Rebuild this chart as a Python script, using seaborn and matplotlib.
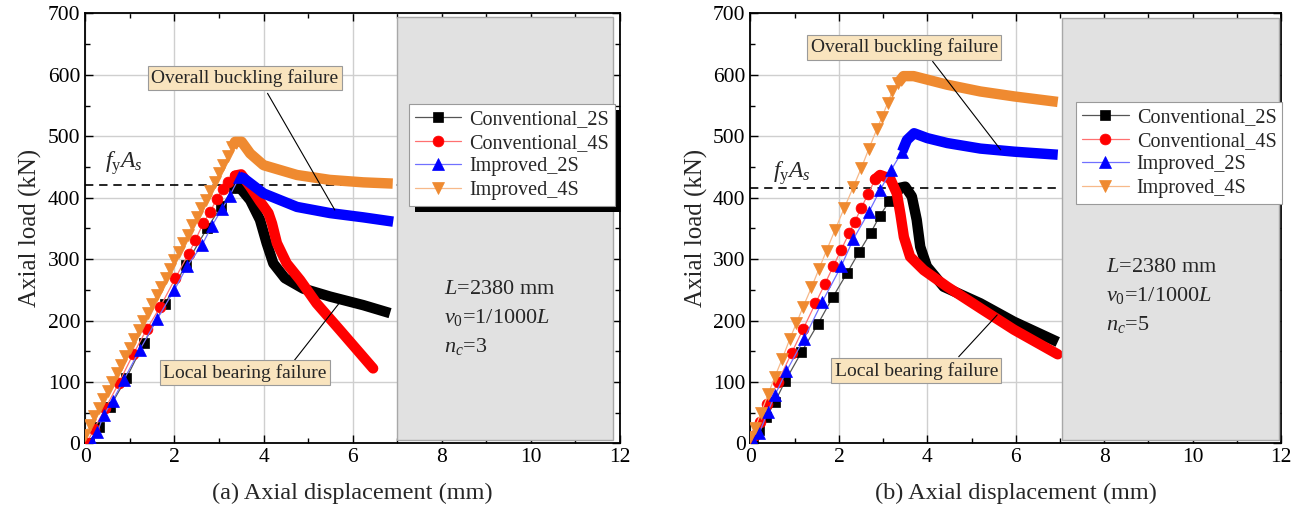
import numpy as np
import matplotlib
matplotlib.use("Agg")
import matplotlib.pyplot as plt
from matplotlib.patches import Rectangle
import seaborn as sns

# ---------------- data ----------------
# Panel (a), n_c = 3
a_c2_pre_x = [0.08, 0.30, 0.55, 0.92, 1.31, 1.79, 2.25, 2.73, 3.05, 3.33]
a_c2_pre_y = [0, 27, 59, 106, 163, 227, 290, 350, 386, 415]
a_c2_post_x = [3.33, 3.45, 3.70, 3.92, 4.07, 4.22, 4.48, 4.89, 5.49, 6.24, 6.84]
a_c2_post_y = [415, 418, 396, 364, 326, 293, 269, 252, 239, 225, 212]

a_c4_pre_x = [0.03, 0.20, 0.45, 0.75, 1.08, 1.38, 1.68, 2.02, 2.32, 2.47, 2.65, 2.80, 2.95, 3.09, 3.21, 3.36]
a_c4_pre_y = [0, 24, 57, 98, 146, 186, 222, 269, 309, 331, 359, 377, 398, 414, 426, 436]
a_c4_post_x = [3.36, 3.50, 3.70, 3.92, 4.11, 4.19, 4.30, 4.52, 4.82, 5.19, 5.72, 6.46]
a_c4_post_y = [436, 438, 418, 394, 375, 358, 326, 293, 266, 228, 184, 122]

a_i2_pre_x = [0.15, 0.27, 0.41, 0.61, 0.86, 1.22, 1.61, 2.00, 2.29, 2.62, 2.84, 3.06, 3.24, 3.46]
a_i2_pre_y = [2, 18, 46, 69, 103, 152, 202, 250, 289, 323, 354, 381, 403, 434]
a_i2_post_x = [3.46, 3.55, 4.00, 4.75, 5.49, 6.24, 6.91]
a_i2_post_y = [434, 432, 407, 385, 375, 368, 361]

a_i4_pre_x = [0.00, 0.10, 0.20, 0.30, 0.40, 0.50, 0.60, 0.70, 0.80, 0.90, 1.00, 1.10,
              1.20, 1.30, 1.40, 1.50, 1.60, 1.70, 1.80, 1.90, 2.00, 2.10, 2.20, 2.30,
              2.40, 2.50, 2.60, 2.70, 2.80, 2.90, 3.00, 3.10, 3.20, 3.30]
a_i4_pre_y = [14, 30, 44, 58, 72, 86, 100, 114, 128, 142, 156, 170,
              185, 199, 213, 227, 241, 255, 270, 284, 298, 312, 326, 340,
              355, 369, 383, 397, 411, 425, 440, 454, 468, 482]
a_i4_post_x = [3.30, 3.36, 3.51, 3.70, 4.00, 4.75, 5.49, 6.24, 6.90]
a_i4_post_y = [482, 491, 491, 472, 453, 437, 429, 425, 423]

# Panel (b), n_c = 5
b_c2_pre_x = [0.05, 0.20, 0.36, 0.55, 0.79, 1.15, 1.53, 1.87, 2.19, 2.46, 2.72, 2.93, 3.14, 3.31]
b_c2_pre_y = [0, 22, 43, 67, 102, 148, 195, 239, 278, 312, 343, 371, 394, 415]
b_c2_post_x = [3.31, 3.50, 3.65, 3.76, 3.84, 3.99, 4.37, 5.20, 5.96, 6.95]
b_c2_post_y = [415, 418, 402, 364, 320, 288, 255, 228, 198, 165]

b_c4_pre_x = [0.00, 0.10, 0.22, 0.38, 0.62, 0.93, 1.19, 1.47, 1.68, 1.87, 2.05, 2.23, 2.36, 2.51, 2.66, 2.82]
b_c4_pre_y = [0, 14, 34, 64, 100, 147, 186, 228, 259, 288, 315, 342, 361, 384, 406, 430]
b_c4_post_x = [2.82, 2.93, 3.16, 3.31, 3.39, 3.47, 3.61, 3.92, 4.45, 5.20, 5.96, 6.95]
b_c4_post_y = [430, 437, 431, 407, 374, 336, 304, 282, 255, 220, 185, 145]

b_i2_pre_x = [0.08, 0.20, 0.39, 0.55, 0.81, 1.21, 1.62, 2.05, 2.33, 2.68, 2.93, 3.18, 3.43]
b_i2_pre_y = [0, 17, 51, 78, 117, 170, 230, 288, 333, 377, 412, 445, 475]
b_i2_post_x = [3.43, 3.54, 3.70, 4.00, 4.45, 5.20, 5.96, 6.95]
b_i2_post_y = [475, 494, 505, 497, 489, 480, 475, 470]

b_i4_pre_x = [0.00, 0.10, 0.24, 0.40, 0.55, 0.72, 0.89, 1.04, 1.19, 1.38, 1.55, 1.72,
              1.91, 2.12, 2.33, 2.51, 2.68, 2.86, 2.98, 3.10, 3.21, 3.33]
b_i4_pre_y = [10, 25, 50, 80, 108, 138, 170, 196, 222, 254, 284, 314,
              347, 383, 418, 449, 480, 512, 532, 554, 573, 586]
b_i4_post_x = [3.33, 3.46, 3.69, 4.45, 5.20, 5.96, 6.95]
b_i4_post_y = [586, 598, 598, 584, 573, 565, 556]

series_names = ["Conventional_2S", "Conventional_4S", "Improved_2S", "Improved_4S"]
fyAs_values = [421, 416]
panel_labels = ["(a) Axial displacement (mm)", "(b) Axial displacement (mm)"]
nc_values = [3, 5]
x_ticks = [0, 2, 4, 6, 8, 10, 12]
y_ticks = [0, 100, 200, 300, 400, 500, 600, 700]

# ---------------- style ----------------
sns.set_style("ticks")
plt.rcParams["font.family"] = ["Liberation Serif", "DejaVu Serif"]
plt.rcParams["mathtext.fontset"] = "custom"
plt.rcParams["mathtext.rm"] = "Liberation Serif"
plt.rcParams["mathtext.it"] = "Liberation Serif:italic"
plt.rcParams["mathtext.bf"] = "Liberation Serif:bold"

colors = ["#000000", "#ff0000", "#0000ff", "#ef8a30"]
line_colors = ["#555555", "#ff7070", "#7070ff", "#f7b98a"]
markers = ["s", "o", "^", "v"]
msizes = [6.5, 7.8, 8.0, 8.5]
caps = ["butt", "round", "butt", "butt"]

fig = plt.figure(figsize=(13.07, 5.21), dpi=100)
axA = fig.add_axes([0.0653, 0.1491, 0.4090, 0.8250])
axB = fig.add_axes([0.5742, 0.1491, 0.4059, 0.8250])

panels = [
    (axA, [(a_c2_pre_x, a_c2_pre_y, a_c2_post_x, a_c2_post_y),
           (a_c4_pre_x, a_c4_pre_y, a_c4_post_x, a_c4_post_y),
           (a_i2_pre_x, a_i2_pre_y, a_i2_post_x, a_i2_post_y),
           (a_i4_pre_x, a_i4_pre_y, a_i4_post_x, a_i4_post_y)]),
    (axB, [(b_c2_pre_x, b_c2_pre_y, b_c2_post_x, b_c2_post_y),
           (b_c4_pre_x, b_c4_pre_y, b_c4_post_x, b_c4_post_y),
           (b_i2_pre_x, b_i2_pre_y, b_i2_post_x, b_i2_post_y),
           (b_i4_pre_x, b_i4_pre_y, b_i4_post_x, b_i4_post_y)]),
]

# annotation geometry per panel: (text xy, line start, line end)
ann_overall = [((3.58, 595), (4.09, 570), (5.60, 380)),
               ((3.48, 645), (4.12, 622), (5.66, 478))]
ann_local = [((3.58, 115), (4.68, 134), (5.75, 233)),
             ((3.75, 118), (4.71, 141), (5.58, 209))]
fy_pos = [(0.86, 456), (0.94, 440)]
info_pos = [(8.05, [250, 205, 158]), (8.05, [287, 240, 194])]
legend_anchor = [(0.605, 0.789), (0.614, 0.794)]
box_coords = [(7.0, 5, 11.85, 695), (7.04, 5, 11.96, 693)]

box_fc = "#f9e4be"

for p, (ax, data) in enumerate(panels):
    handles = []
    for k, (px, py, qx, qy) in enumerate(data):
        # thick band of densely packed markers after the peak
        sns.lineplot(x=qx, y=qy, ax=ax, color=colors[k], linewidth=7.5,
                     sort=False, estimator=None, zorder=3 + k * 0.1,
                     solid_capstyle=caps[k], solid_joinstyle="round")
        # discrete markers before the peak
        sns.lineplot(x=px, y=py, ax=ax, color=line_colors[k], linewidth=0.9,
                     sort=False, estimator=None, marker=markers[k],
                     markersize=msizes[k], markerfacecolor=colors[k],
                     markeredgecolor=colors[k], markeredgewidth=0.5,
                     zorder=3 + k * 0.1)
        handles.append(ax.lines[-1])

    ax.set_xlim(0, 12)
    ax.set_ylim(0, 700)
    ax.set_xticks(x_ticks)
    ax.set_yticks(y_ticks)
    ax.set_xticks(np.arange(1, 12, 2), minor=True)
    ax.set_yticks(np.arange(50, 700, 100), minor=True)
    ax.tick_params(which="both", direction="in", top=True, right=True,
                   labelsize=15.5, width=1.0, colors="black")
    ax.tick_params(which="major", length=6)
    ax.tick_params(which="minor", length=3.5)
    ax.grid(True, which="major", color="#cfcfcf", linewidth=1.0, zorder=0)
    ax.set_axisbelow(True)
    for s in ax.spines.values():
        s.set_linewidth(1.3)
        s.set_color("black")
    ax.set_xlabel(panel_labels[p], fontsize=17.5, labelpad=11)
    ax.set_ylabel("Axial load (kN)", fontsize=18, labelpad=4)

    # f_y A_s dashed line
    ax.plot([0, 7.0], [fyAs_values[p]] * 2, color="black", linestyle=(0, (5, 3.5)),
            linewidth=1.2, zorder=2.5)
    ax.text(fy_pos[p][0], fy_pos[p][1], r"$f_{\mathrm{y}}A_s$", fontsize=17,
            ha="center", va="center", zorder=6)

    # grey info panel
    x0, y0, x1, y1 = box_coords[p]
    ax.add_patch(Rectangle((x0, y0), x1 - x0, y1 - y0, facecolor="#e1e1e1",
                           edgecolor="#a8a8a8", linewidth=1.0, zorder=4))
    tx, tys = info_pos[p]
    ax.text(tx, tys[0], r"$L$=2380 mm", fontsize=16, va="center", ha="left", zorder=6)
    ax.text(tx, tys[1], r"$v_0$=1/1000$L$", fontsize=16, va="center", ha="left", zorder=6)
    ax.text(tx, tys[2], r"$n_c$=%d" % nc_values[p], fontsize=16, va="center", ha="left", zorder=6)

    # annotations
    for (txy, ls, le), label in [(ann_overall[p], "Overall buckling failure"),
                                 (ann_local[p], "Local bearing failure")]:
        ax.plot([ls[0], le[0]], [ls[1], le[1]], color="black", linewidth=0.8, zorder=6)
        ax.text(txy[0], txy[1], label, fontsize=14, ha="center", va="center", zorder=7,
                bbox=dict(boxstyle="square,pad=0.18", facecolor=box_fc,
                          edgecolor="#9a9a9a", linewidth=0.8))

    leg = ax.legend(handles, series_names, loc="upper left",
                    bbox_to_anchor=legend_anchor[p], fontsize=14.5,
                    frameon=True, fancybox=False, framealpha=1.0,
                    edgecolor="#9a9a9a", handlelength=2.3, handletextpad=0.4,
                    borderpad=0.3, labelspacing=0.22, borderaxespad=0.0)
    leg.get_frame().set_linewidth(0.8)
    leg.set_zorder(10)

# black drop shadow behind the legend of panel (a)
fig.canvas.draw()
legA = axA.get_legend()
bb = legA.get_window_extent()
inv = axA.transAxes.inverted()
(sx0, sy0) = inv.transform((bb.x0 + 6, bb.y0 - 6))
(sx1, sy1) = inv.transform((bb.x1 + 6, bb.y1 - 6))
axA.add_patch(Rectangle((sx0, sy0), sx1 - sx0, sy1 - sy0, transform=axA.transAxes,
                        facecolor="black", edgecolor="none", zorder=9, clip_on=False))

fig.savefig("out.png", dpi=100)
